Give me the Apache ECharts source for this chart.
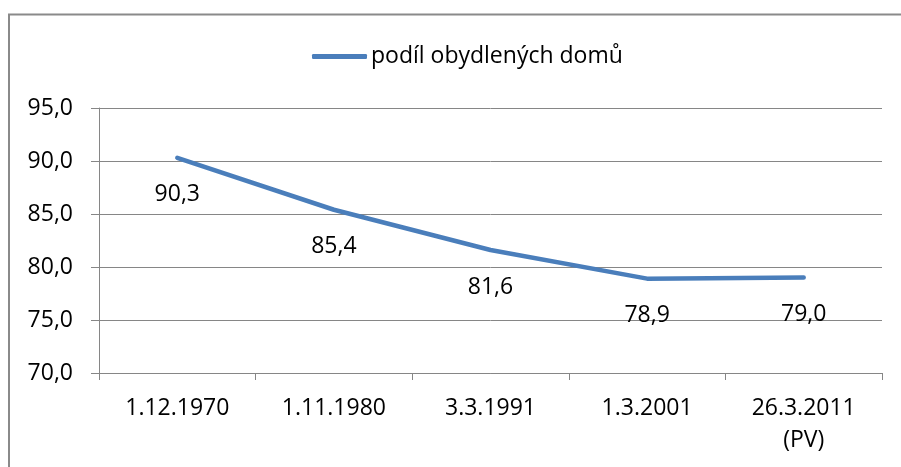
<!DOCTYPE html>
<html>
<head>
<meta charset="utf-8">
<script src="https://cdn.jsdelivr.net/npm/echarts@6/dist/echarts.min.js"></script>
<style>
html, body { margin: 0; padding: 0; background: #fff; }
#chart { width: 901px; height: 467px; }
</style>
</head>
<body>
<div id="chart"></div>
<script>
// podíl obydlených domů
var categories = ['1.12.1970', '1.11.1980', '3.3.1991', '1.3.2001', '26.3.2011\n(PV)'];
var values = [90.3, 85.4, 81.6, 78.9, 79.0];
var seriesName = 'podíl obydlených domů';

var chartInstance = echarts.init(document.getElementById('chart'));
var fontFamily = '"Open Sans", "Noto Sans", sans-serif';
var axisGray = '#868686';

function czNumber(v){
    return v.toFixed(1).replace('.', ',');
}

var option = {
    animation: false,
    textStyle: { fontFamily: fontFamily },
    graphic: [{
        type: 'rect',
        shape: { x: 9, y: 14.5, width: 910, height: 470 },
        style: { fill: 'none', stroke: '#8a8a8a', lineWidth: 2 },
        silent: true
    }],
    legend: {
        top: 40,
        left: 307,
        itemWidth: 55,
        itemHeight: 5,
        itemGap: 0,
        icon: 'roundRect',
        data: [{ name: seriesName }],
        textStyle: { fontSize: 23, color: '#000', padding: [0, 0, 0, -1] }
    },
    grid: {
        top: 108,
        left: 99,
        right: 19,
        bottom: 94
    },
    xAxis: {
        type: 'category',
        data: categories,
        boundaryGap: true,
        axisLine: { lineStyle: { color: axisGray, width: 1 } },
        axisTick: { show: true, length: 7, lineStyle: { color: axisGray } },
        axisLabel: {
            color: '#000',
            fontSize: 23,
            margin: 19,
            lineHeight: 32
        }
    },
    yAxis: {
        type: 'value',
        min: 70,
        max: 95,
        interval: 5,
        axisLine: { show: true, lineStyle: { color: axisGray, width: 1 } },
        axisTick: { show: true, length: 8, lineStyle: { color: axisGray } },
        splitLine: { lineStyle: { color: axisGray, width: 1 } },
        axisLabel: {
            color: '#000',
            fontSize: 23,
            margin: 26,
            formatter: function(v){ return czNumber(v); }
        }
    },
    series: [{
        name: seriesName,
        type: 'line',
        data: values,
        symbol: 'circle',
        symbolSize: 1,
        showSymbol: true,
        lineStyle: { color: '#4a7ebb', width: 4.5, cap: 'round', join: 'round' },
        itemStyle: { color: '#4a7ebb' },
        label: {
            show: true,
            position: 'bottom',
            distance: 25,
            color: '#000',
            fontSize: 23,
            formatter: function(p){ return czNumber(p.value); }
        }
    }]
};
chartInstance.setOption(option, true);
window.onresize = function(){
    chartInstance.resize();
}
</script>
</body>
</html>
